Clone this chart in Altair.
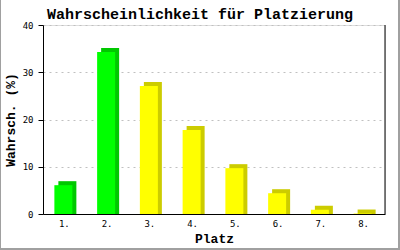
import altair as alt
import pandas as pd

places = ["1.", "2.", "3.", "4.", "5.", "6.", "7.", "8."]
values = [6.1, 34.3, 27.1, 17.8, 9.7, 4.4, 0.9, 0.1]
rank = [1, 2, 3, 4, 5, 6, 7, 8]

df = pd.DataFrame({"Platz": places, "value": values, "rank": rank})

W, H = 342, 189
MONO = "Liberation Mono"
DEPTH = 40 * 4 / H  # 4 px of depth expressed in data units

x_enc = alt.X("Platz:N", sort=places,
              scale=alt.Scale(paddingInner=0.5, paddingOuter=0.25),
              axis=alt.Axis(title="Platz", labelAngle=0, ticks=False, domain=True,
                            domainColor="black", labelFont="DejaVu Sans Mono",
                            labelFontSize=9, labelColor="black", labelPadding=5,
                            titleFont=MONO, titleFontSize=13, titleFontWeight="bold",
                            titleColor="black", titlePadding=4, grid=False))
y_scale = alt.Scale(domain=[0, 40], nice=False)
y_axis = alt.Axis(title="Wahrsch. (%)", values=[0, 10, 20, 30, 40],
                  ticks=True, tickSize=5, tickColor="black",
                  domainColor="black", labelFont="DejaVu Sans Mono",
                  labelFontSize=9, labelColor="black", labelPadding=5,
                  titleFont=MONO, titleFontSize=13, titleFontWeight="bold",
                  titleColor="black", titlePadding=5,
                  grid=True, gridColor="#c0c0c0", gridDash=[2, 4])

base = alt.Chart(df)

back = base.transform_calculate(top=f"datum.value + {DEPTH}").mark_bar(
    width=18, xOffset=3).encode(
    x=x_enc,
    y=alt.Y("top:Q", scale=y_scale, axis=y_axis),
    y2=alt.datum(0),
    color=alt.condition("datum.rank <= 2", alt.value("#00c800"), alt.value("#cccc00")),
)
front = base.mark_bar(width=18, xOffset=-1).encode(
    x=alt.X("Platz:N", sort=places), y=alt.Y("value:Q", scale=y_scale),
    color=alt.condition("datum.rank <= 2", alt.value("#00ff00"), alt.value("#ffff00")),
)

frame_df = pd.DataFrame({"k": [0]})
right_rule = alt.Chart(frame_df).mark_rule(color="black", strokeWidth=1).encode(
    x=alt.value(W), y=alt.value(0), y2=alt.value(H))
frame = alt.Chart(frame_df).mark_rect(fill=None, stroke="#a0a0a0", strokeWidth=2).encode(
    x=alt.value(-43), x2=alt.value(356), y=alt.value(-28), y2=alt.value(224))

chart = alt.layer(back, front, right_rule, frame).properties(
    width=W, height=H,
    title=alt.TitleParams("Wahrscheinlichkeit für Platzierung", font=MONO, fontSize=15,
                          fontWeight="bold", color="black", anchor="middle", dx=-14,
                          baseline="bottom", offset=-41),
    padding={"left": 43, "top": 25, "right": 15, "bottom": 36},
    autosize=alt.AutoSizeParams(type="none"),
).configure_view(stroke=None).configure(background="white")

chart.save("out.html", embed_options={"renderer": "svg", "actions": False})
